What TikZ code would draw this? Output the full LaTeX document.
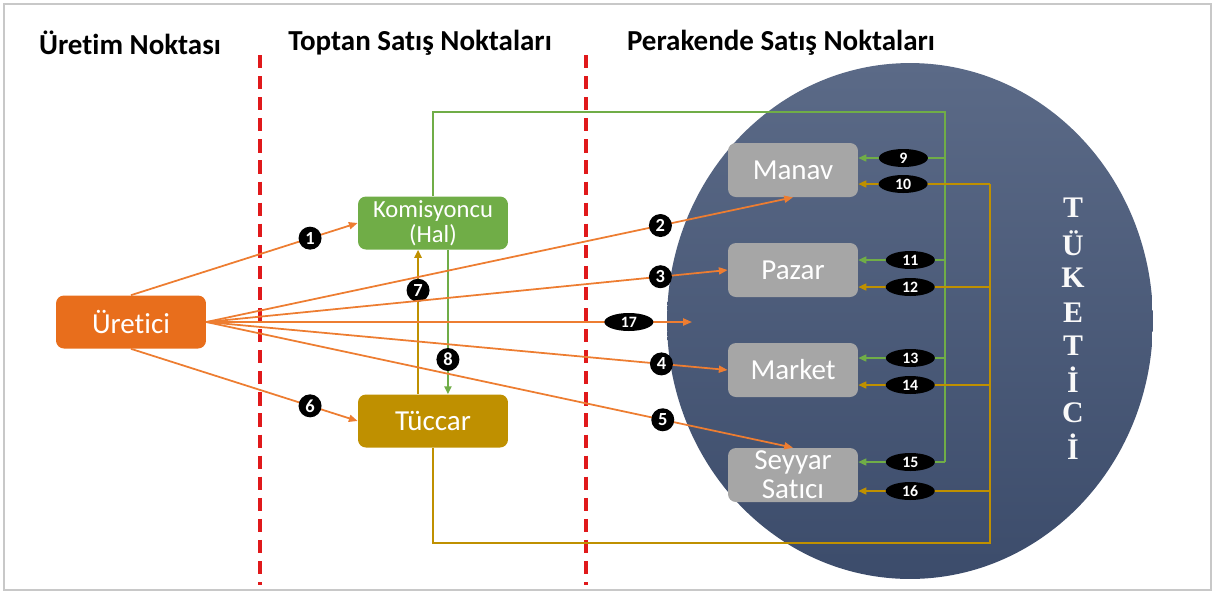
\documentclass[tikz,border=0pt]{standalone}
\usepackage{fontspec}
\setmainfont{Carlito}[Ligatures=NoCommon]
\newfontfamily\serifb{Liberation Serif}
\usetikzlibrary{arrows.meta,shapes.geometric}
\definecolor{orL}{HTML}{ED7D31}
\definecolor{orB}{HTML}{E86E1C}
\definecolor{grB}{HTML}{70AD47}
\definecolor{gdB}{HTML}{BF9000}
\definecolor{gyB}{HTML}{A6A6A6}
\definecolor{redD}{HTML}{E0191B}
\definecolor{ellT}{HTML}{5B6A87}
\definecolor{ellB}{HTML}{3C4C6B}
\definecolor{frameC}{HTML}{C8C8C8}
\begin{document}
\begin{tikzpicture}[x=0.02cm,y=-0.02cm,
  box/.style={rounded corners=4.5pt, minimum width=3cm, minimum height=1.06cm, text=white, font=\fontsize{16.5}{18}\selectfont, inner sep=0pt, align=center},
  rbox/.style={box, fill=gyB, minimum width=2.6cm, minimum height=1.08cm},
  numc/.style={circle, fill=black, text=white, font=\bfseries\fontsize{10.5}{10.5}\selectfont, inner sep=0pt, minimum size=0.46cm},
  numl/.style={ellipse, fill=black, text=white, font=\bfseries\fontsize{9}{9}\selectfont, inner sep=0pt, minimum width=0.98cm, minimum height=0.36cm},
  hdr/.style={font=\bfseries\fontsize{16.5}{18}\selectfont},
  oline/.style={draw=orL, line width=1pt, -{Triangle[length=5pt,width=4pt]}},
  gline/.style={draw=grB, line width=0.75pt},
  dline/.style={draw=gdB, line width=0.75pt},
  arrtip/.style={-{Triangle[length=4.5pt,width=4pt]}},
  redsep/.style={draw=redD, line width=2.2pt, dash pattern=on 7.5pt off 4.5pt},
  tkl/.style={text=white!95!gray, font=\serifb\bfseries\fontsize{17}{17}\selectfont}
]
\useasboundingbox (0,0) rectangle (1215,593);
\draw[frameC, line width=1.2pt] (4,4) rectangle (1211,590);

% consumer ellipse
\node[ellipse, top color=ellT, bottom color=ellB, draw=none, inner sep=0pt,
      minimum width=9.72cm, minimum height=10.32cm] (cons) at (910,321) {};

% separators
\draw[redsep] (260,55) -- (260,585);
\draw[redsep] (586,55) -- (586,585);

% headers
\node[hdr] (h1) at (130,43) {Üretim Noktası};
\node[hdr] (h2) at (420,43) {Toptan Satış Noktaları};
\node[hdr] (h3) at (781,43) {Perakende Satış Noktaları};

% boxes
\node[box, fill=orB] (ur) at (131,322) {Üretici};
\node[box, fill=grB, font=\fontsize{14}{14}\selectfont] (kom) at (433,223) {Komisyoncu\\(Hal)};
\node[box, fill=gdB] (tuc) at (433,421) {Tüccar};
\node[rbox] (manav) at (793,170) {Manav};
\node[rbox] (pazar) at (793,270) {Pazar};
\node[rbox] (market) at (793,370) {Market};
\node[rbox, font=\fontsize{16.5}{16.5}\selectfont] (seyyar) at (793,475) {Seyyar\\Satıcı};

% TÜKETİCİ
\foreach \l/\yy [count=\k] in {T/208,Ü/243,K/278,E/313,T/346,İ/380,C/413,İ/447}
  \node[tkl] (tk\k) at (1073,\yy) {\l};

% green network (Komisyoncu)
\coordinate (gt) at (945,112);
\coordinate (g9) at (945,158);
\coordinate (g11) at (945,260);
\coordinate (g13) at (945,358);
\coordinate (g15) at (945,462);
\draw[gline] (kom.north) |- (gt) -- (g15);
\draw[gline,arrtip] (g9) -- node[numl,pos=0.48]{9} (g9 -| manav.east);
\draw[gline,arrtip] (g11) -- node[numl,pos=0.40]{11} (g11 -| pazar.east);
\draw[gline,arrtip] (g13) -- node[numl,pos=0.40]{13} (g13 -| market.east);
\draw[gline,arrtip] (g15) -- node[numl,pos=0.40]{15} (g15 -| seyyar.east);

% gold network (Tüccar)
\coordinate (db) at (990,543);
\coordinate (d10) at (990,184);
\coordinate (d12) at (990,287);
\coordinate (d14) at (990,385);
\coordinate (d16) at (990,491);
\draw[dline] (tuc.south) |- (db) -- (d10);
\draw[dline,arrtip] (d10) -- node[numl,pos=0.66]{10} (d10 -| manav.east);
\draw[dline,arrtip] (d12) -- node[numl,pos=0.606]{12} (d12 -| pazar.east);
\draw[dline,arrtip] (d14) -- node[numl,pos=0.606]{14} (d14 -| market.east);
\draw[dline,arrtip] (d16) -- node[numl,pos=0.606]{16} (d16 -| seyyar.east);

% between wholesalers
\draw[draw=gdB, line width=1.6pt, arrtip] ([xshift=-8.5pt]tuc.north) -- node[numc,pos=0.72]{7} ([xshift=-8.5pt]kom.south);
\draw[draw=grB, line width=1.1pt, arrtip] ([xshift=8.5pt]kom.south) -- node[numc,pos=0.76]{8} ([xshift=8.5pt]tuc.north);

% producer lines
\coordinate (e17) at (692,322);
\draw[oline] (ur.north) -- node[numc,pos=0.79]{1} (kom.west);
\draw[oline] (ur.south) -- node[numc,pos=0.79]{6} (tuc.west);
\draw[oline] (ur.east) -- node[numc,pos=0.774]{2} (manav.south);
\draw[oline] (ur.east) -- node[numc,pos=0.871]{3} (pazar.west);
\draw[oline] (ur.east) -- node[numl,pos=0.87]{17} (e17);
\draw[oline] (ur.east) -- node[numc,pos=0.873]{4} (market.west);
\draw[oline] (ur.east) -- node[numc,pos=0.778]{5} (seyyar.north);
\end{tikzpicture}
\end{document}
